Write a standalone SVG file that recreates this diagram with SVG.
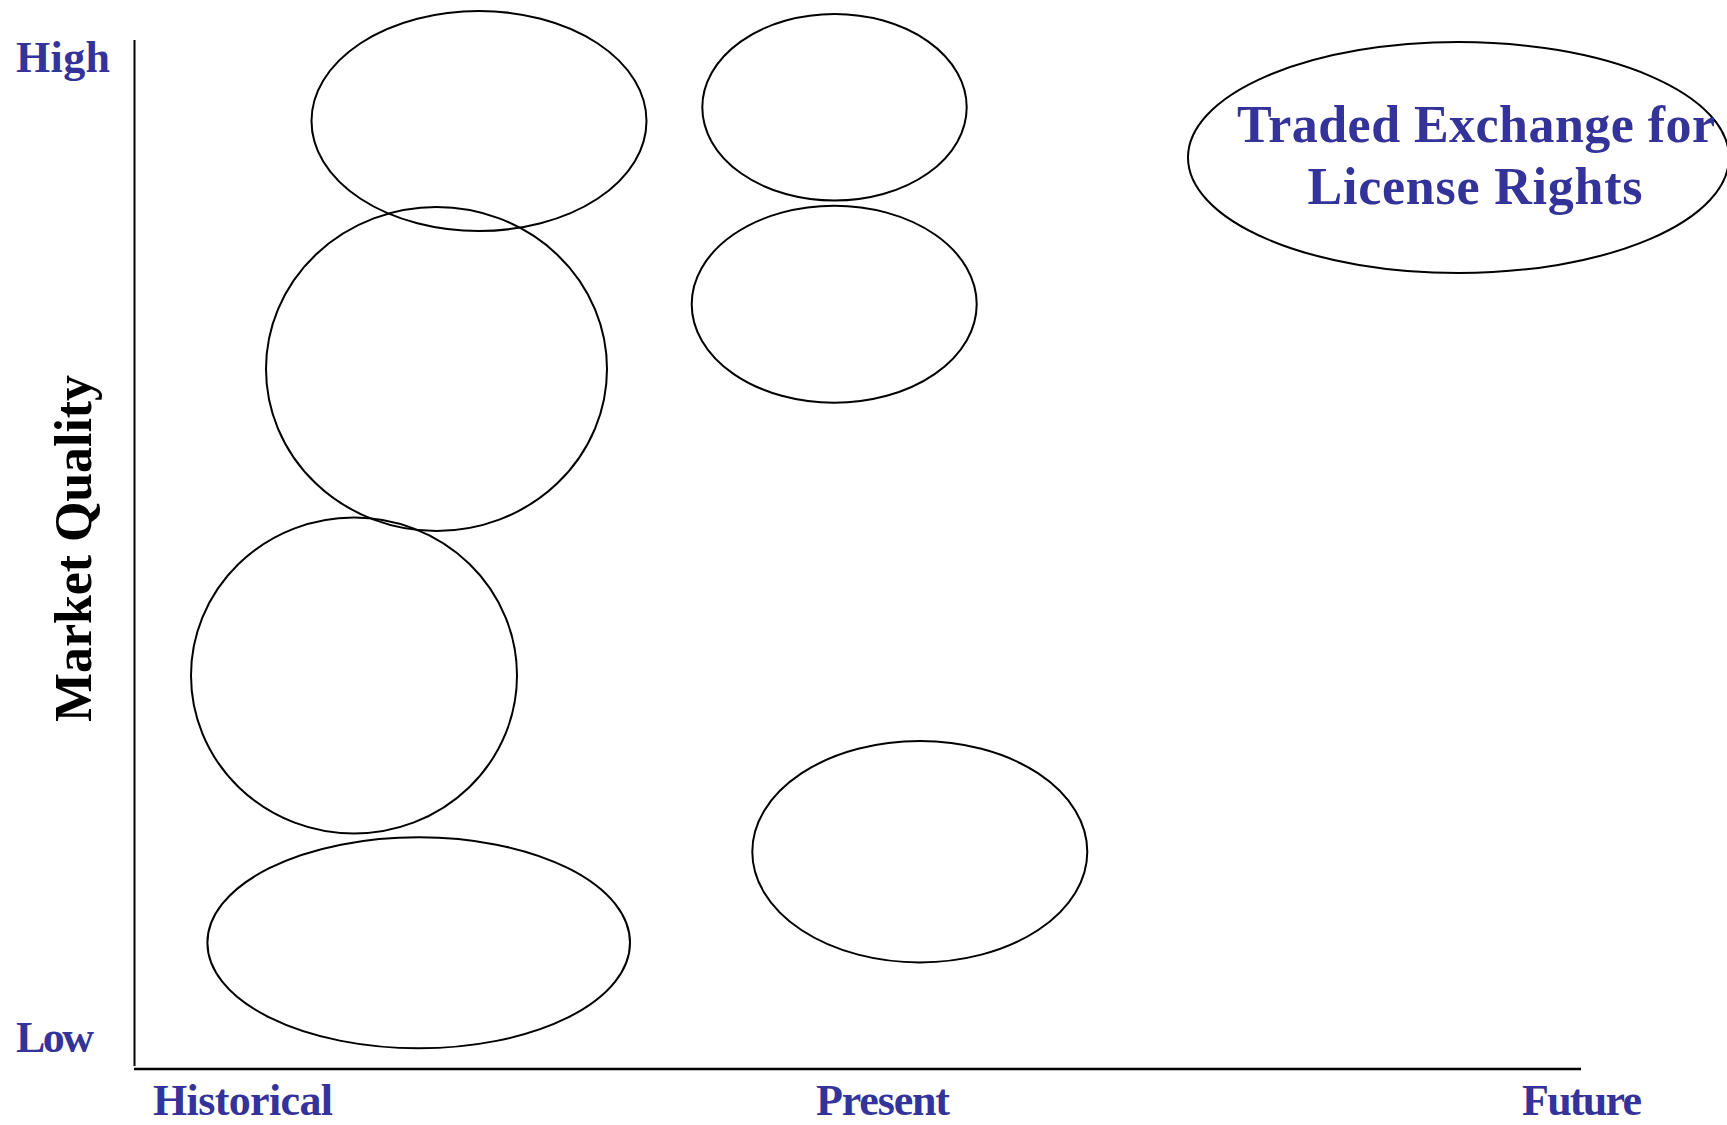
<svg xmlns="http://www.w3.org/2000/svg" width="1727" height="1125" viewBox="0 0 1727 1125">
<style>
  .bubble { fill: none; stroke: #000000; stroke-width: 2; }
  .axis { stroke: #000000; fill: none; }
  .lbl { font-family: "Liberation Serif", "Times New Roman", serif; font-weight: bold; fill: #333399; font-size: 44px; }
  .big { font-family: "Liberation Serif", "Times New Roman", serif; font-weight: bold; fill: #333399; font-size: 52px; text-anchor: middle; }
  .ytitle { font-family: "Liberation Serif", "Times New Roman", serif; font-weight: bold; fill: #000000; font-size: 52px; text-anchor: middle; }
</style>
<rect x="0" y="0" width="1727" height="1125" fill="#ffffff"/>
<g id="axes">
  <line class="axis" x1="134.5" y1="40" x2="134.5" y2="1066" stroke-width="2"/>
  <line class="axis" x1="134" y1="1069" x2="1581" y2="1069" stroke-width="2.5"/>
</g>
<g id="axis-labels">
  <text class="lbl" x="16" y="72" textLength="94">High</text>
  <text class="lbl" x="16" y="1052" textLength="78">Low</text>
  <text class="lbl" x="153" y="1115" textLength="180">Historical</text>
  <text class="lbl" x="816" y="1115" textLength="134">Present</text>
  <text class="lbl" x="1522" y="1115" textLength="120">Future</text>
  <text class="ytitle" transform="translate(91,548.5) rotate(-90)" textLength="347">Market Quality</text>
</g>
<g id="node-1"><ellipse class="bubble" cx="479" cy="121" rx="167.5" ry="110"/></g>
<g id="node-2"><ellipse class="bubble" cx="436.5" cy="369" rx="170.5" ry="162"/></g>
<g id="node-3"><ellipse class="bubble" cx="354" cy="675.5" rx="163" ry="158"/></g>
<g id="node-4"><ellipse class="bubble" cx="418.7" cy="942.8" rx="211.3" ry="105.5"/></g>
<g id="node-5"><ellipse class="bubble" cx="834.5" cy="107.3" rx="132.2" ry="93.3"/></g>
<g id="node-6"><ellipse class="bubble" cx="834.2" cy="304.2" rx="142.5" ry="98.5"/></g>
<g id="node-7"><ellipse class="bubble" cx="919.8" cy="851.7" rx="167.5" ry="110.7"/></g>
<g id="node-8">
  <ellipse class="bubble" cx="1458.5" cy="157.5" rx="270.5" ry="115.5"/>
  <text class="big" x="1476" y="142" textLength="478">Traded Exchange for</text>
  <text class="big" x="1475" y="204" textLength="335">License Rights</text>
</g>
<g id="connectors"></g>
</svg>
